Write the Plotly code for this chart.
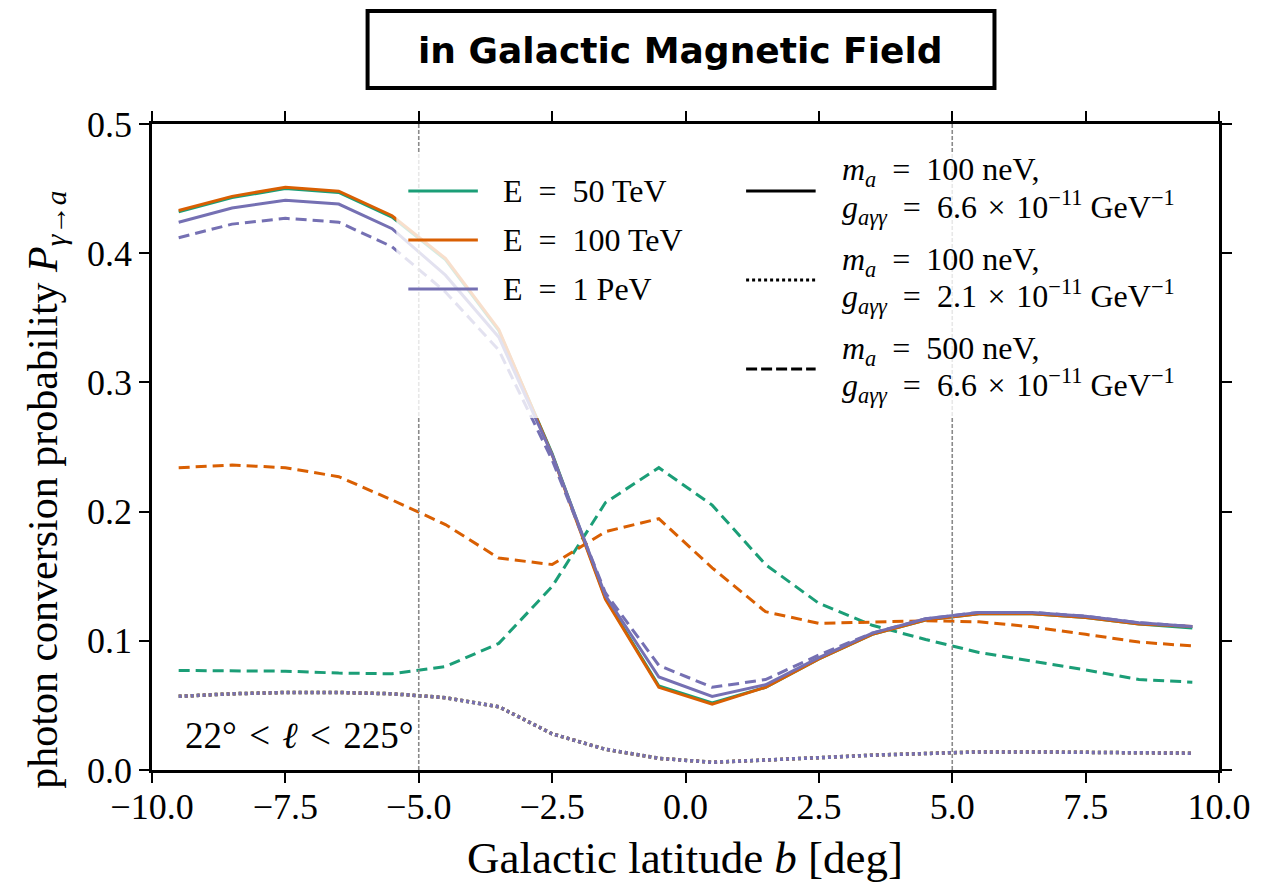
import plotly.graph_objects as go

# Galactic latitude bin centres [deg]
latitude = [-9.5, -8.5, -7.5, -6.5, -5.5, -4.5, -3.5, -2.5, -1.5, -0.5,
            0.5, 1.5, 2.5, 3.5, 4.5, 5.5, 6.5, 7.5, 8.5, 9.5]

# m_a = 100 neV, g = 6.6e-11 GeV^-1 (solid)
p_50tev_solid = [0.432, 0.443, 0.450, 0.447, 0.428, 0.395, 0.340, 0.245, 0.133, 0.065,
                 0.052, 0.064, 0.086, 0.105, 0.116, 0.121, 0.121, 0.118, 0.113, 0.110]
p_100tev_solid = [0.433, 0.444, 0.451, 0.448, 0.429, 0.396, 0.341, 0.244, 0.132, 0.064,
                  0.051, 0.064, 0.086, 0.105, 0.116, 0.121, 0.121, 0.118, 0.113, 0.111]
p_1pev_solid = [0.424, 0.435, 0.441, 0.438, 0.419, 0.383, 0.335, 0.244, 0.135, 0.072,
                0.057, 0.066, 0.087, 0.106, 0.117, 0.122, 0.122, 0.119, 0.114, 0.111]

# m_a = 100 neV, g = 2.1e-11 GeV^-1 (dotted)
p_50tev_dotted = [0.057, 0.059, 0.060, 0.060, 0.059, 0.056, 0.049, 0.028, 0.016, 0.009,
                  0.006, 0.0075, 0.0095, 0.0115, 0.013, 0.014, 0.014, 0.0138, 0.0135, 0.013]
p_100tev_dotted = [0.057, 0.059, 0.060, 0.060, 0.059, 0.056, 0.049, 0.028, 0.016, 0.009,
                   0.006, 0.0075, 0.0095, 0.0115, 0.013, 0.014, 0.014, 0.0138, 0.0135, 0.013]
p_1pev_dotted = [0.057, 0.059, 0.060, 0.060, 0.059, 0.056, 0.049, 0.028, 0.016, 0.009,
                 0.006, 0.0075, 0.0095, 0.0115, 0.013, 0.014, 0.014, 0.0138, 0.0135, 0.013]

# m_a = 500 neV, g = 6.6e-11 GeV^-1 (dashed)
p_50tev_dashed = [0.077, 0.077, 0.0765, 0.075, 0.0745, 0.080, 0.098, 0.142, 0.207, 0.234,
                  0.205, 0.159, 0.129, 0.112, 0.101, 0.091, 0.0845, 0.0775, 0.070, 0.068]
p_100tev_dashed = [0.234, 0.236, 0.234, 0.227, 0.209, 0.190, 0.164, 0.159, 0.1845, 0.1945,
                   0.1565, 0.1225, 0.1135, 0.1147, 0.1155, 0.1147, 0.1108, 0.105, 0.099, 0.096]
p_1pev_dashed = [0.412, 0.4225, 0.427, 0.424, 0.405, 0.370, 0.325, 0.240, 0.137, 0.081,
                 0.064, 0.070, 0.089, 0.106, 0.117, 0.122, 0.122, 0.119, 0.114, 0.111]

energy_labels = ["E\u2002=\u200250 TeV", "E\u2002=\u2002100 TeV", "E\u2002=\u20021 PeV"]
energy_colors = ["#1b9e77", "#d95f02", "#7570b3"]

solid = [p_50tev_solid, p_100tev_solid, p_1pev_solid]
dotted = [p_50tev_dotted, p_100tev_dotted, p_1pev_dotted]
dashed = [p_50tev_dashed, p_100tev_dashed, p_1pev_dashed]

SERIF = "Liberation Serif"
SP = "\u2002"   # wider spacing around relations, as in typeset math
SP3 = "\u2004"  # three-per-em space

fig = go.Figure()

for color, ys_solid, ys_dot, ys_dash in zip(energy_colors, solid, dotted, dashed):
    fig.add_trace(go.Scatter(x=latitude, y=ys_solid, mode="lines",
                             line=dict(color=color, width=3), showlegend=False))
    fig.add_trace(go.Scatter(x=latitude, y=ys_dot, mode="lines",
                             line=dict(color=color, width=3.5, dash="3px,3px"),
                             showlegend=False))
    fig.add_trace(go.Scatter(x=latitude, y=ys_dash, mode="lines",
                             line=dict(color=color, width=3, dash="11px,6px"),
                             showlegend=False))

shapes = []
# vertical reference lines at b = +-5 deg
for xv in (-5, 5):
    shapes.append(dict(type="line", xref="x", yref="paper", x0=xv, x1=xv, y0=0, y1=1,
                       line=dict(color="#8a8a8a", width=1.6, dash="4px,2px"),
                       layer="above"))

W = 1074.0
H = 646.0


def px_x(px):
    return (px - 152) / W


def px_y(py):
    return (770 - py) / H


# semi-transparent legend background
shapes.append(dict(type="rect", xref="paper", yref="paper",
                   x0=0.229, x1=0.990, y0=0.545, y1=0.955,
                   fillcolor="rgba(255,255,255,0.8)", line=dict(width=0),
                   layer="above"))

annotations = []

# energy legend (colour key)
for i, (lab, col) in enumerate(zip(energy_labels, energy_colors)):
    yy = px_y(191 + 49 * i)
    shapes.append(dict(type="line", xref="paper", yref="paper",
                       x0=px_x(410), x1=px_x(480), y0=yy, y1=yy,
                       line=dict(color=col, width=3), layer="above"))
    annotations.append(dict(xref="paper", yref="paper", x=px_x(503), y=yy,
                            xanchor="left", yanchor="middle", showarrow=False,
                            text=lab, font=dict(family=SERIF, size=32, color="black")))

# coupling legend (line style key)
style_keys = [
    ("solid", "100", "6.6"),
    ("3px,3px", "100", "2.1"),
    ("11px,4px", "500", "6.6"),
]
for i, (dash, mass, coupling) in enumerate(style_keys):
    yc = 191 + 89 * i
    l1 = f"<i>m</i><sub><i>a</i></sub>{SP}={SP}{mass} neV,"
    l2 = (f"<i>g</i><sub><i>aγγ</i></sub>{SP}={SP}{coupling}{SP3}×{SP3}10<sup>−11</sup>"
          f" GeV<sup>−1</sup>")
    shapes.append(dict(type="line", xref="paper", yref="paper",
                       x0=px_x(750), x1=px_x(820), y0=px_y(yc), y1=px_y(yc),
                       line=dict(color="black", width=3, dash=dash), layer="above"))
    annotations.append(dict(xref="paper", yref="paper", x=px_x(845), y=px_y(yc - 19),
                            xanchor="left", yanchor="middle", showarrow=False,
                            text=l1, font=dict(family=SERIF, size=32, color="black")))
    annotations.append(dict(xref="paper", yref="paper", x=px_x(845), y=px_y(yc + 16),
                            xanchor="left", yanchor="middle", showarrow=False,
                            text=l2, font=dict(family=SERIF, size=32, color="black")))

# longitude range label
annotations.append(dict(xref="paper", yref="paper", x=px_x(183), y=px_y(735),
                        xanchor="left", yanchor="middle", showarrow=False,
                        text=f"22°{SP3}<{SP3}<i>ℓ</i>{SP3}<{SP3}225°",
                        font=dict(family=SERIF, size=37, color="black")))

# axis titles
annotations.append(dict(xref="paper", yref="paper", x=px_x(688), y=px_y(858),
                        xanchor="center", yanchor="middle", showarrow=False,
                        text="Galactic latitude <i>b</i> [deg]",
                        font=dict(family=SERIF, size=45, color="black")))
annotations.append(dict(xref="paper", yref="paper", x=px_x(45), y=px_y(490),
                        xanchor="center", yanchor="middle", showarrow=False,
                        textangle=-90,
                        text="photon conversion probability <i>P</i><sub><i>γ</i>→<i>a</i></sub>",
                        font=dict(family=SERIF, size=42, color="black")))

# boxed heading
shapes.append(dict(type="rect", xref="paper", yref="paper",
                   x0=px_x(369), x1=px_x(1000), y0=px_y(88), y1=px_y(11),
                   line=dict(color="black", width=4), fillcolor="white", layer="above"))
annotations.append(dict(xref="paper", yref="paper", x=px_x(684), y=px_y(50),
                        xanchor="center", yanchor="middle", showarrow=False,
                        text="<b>in Galactic Magnetic Field</b>",
                        font=dict(family="DejaVu Sans", size=36, color="black")))

axis_common = dict(showline=True, linecolor="black", linewidth=2.5, mirror="allticks",
                   ticks="outside", ticklen=10, tickwidth=2, tickcolor="black",
                   showgrid=False, zeroline=False,
                   tickfont=dict(family=SERIF, size=36, color="black"))

fig.update_layout(
    width=1263, height=887,
    margin=dict(l=152, r=37, t=124, b=117),
    plot_bgcolor="white", paper_bgcolor="white",
    showlegend=False,
    shapes=shapes, annotations=annotations,
    xaxis=dict(range=[-10, 10], tickvals=[-10, -7.5, -5, -2.5, 0, 2.5, 5, 7.5, 10],
               tickformat=".1f", ticklabelstandoff=-7, **axis_common),
    yaxis=dict(range=[0, 0.5], tickvals=[0, 0.1, 0.2, 0.3, 0.4, 0.5],
               tickformat=".1f", **axis_common),
)

fig.write_html("out.html")
